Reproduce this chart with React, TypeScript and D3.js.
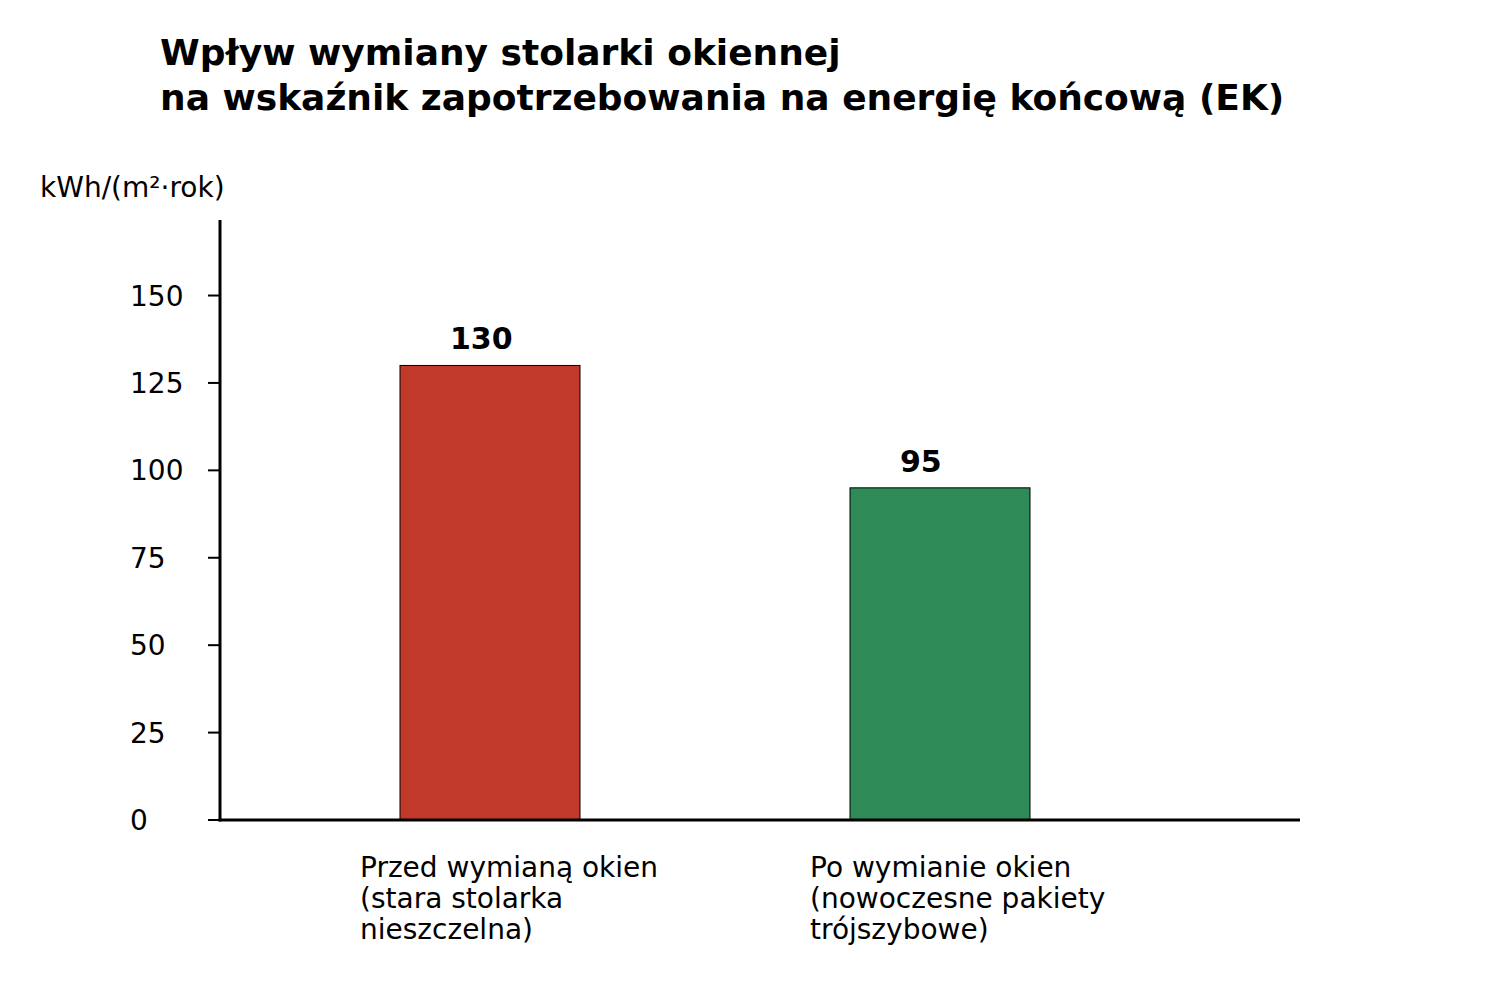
import React, { useEffect, useRef } from 'react';
import * as d3 from 'd3';

// values
const categories = [
  ['Przed wymianą okien', '(stara stolarka', 'nieszczelna)'],
  ['Po wymianie okien', '(nowoczesne pakiety', 'trójszybowe)'],
];
const values = [130, 95];
const barColors = ['#c0392b', '#2e8b57'];
const yTicks = [0, 25, 50, 75, 100, 125, 150];
const titleLines = [
  'Wpływ wymiany stolarki okiennej',
  'na wskaźnik zapotrzebowania na energię końcową (EK)',
];
const unitLabel = 'kWh/(m²·rok)';

const font = 'DejaVu Sans, sans-serif';

export default function App() {
  const ref = useRef<SVGSVGElement>(null);

  useEffect(() => {
    const svg = d3.select(ref.current);
    svg.selectAll('*').remove();

    const left = 220, right = 1300, top = 220, bottom = 820;

    const y = d3.scaleLinear().domain([0, 130 * 1.32]).range([bottom, top]);
    const x = d3.scaleBand<number>()
      .domain(d3.range(values.length + 1))
      .range([left + 180, left + 180 + 450 * (values.length + 1)]);

    // title
    svg.append('g').selectAll('text')
      .data(titleLines)
      .enter()
      .append('text')
      .attr('x', 160)
      .attr('y', (d, i) => 65 + i * 45)
      .attr('font-family', font)
      .attr('font-weight', 'bold')
      .attr('font-size', 36)
      .text(d => d);

    svg.append('text')
      .attr('x', 40)
      .attr('y', 197)
      .attr('font-family', font)
      .attr('font-size', 28)
      .text(unitLabel);

    // bars
    svg.selectAll('.bar')
      .data(values)
      .enter()
      .append('rect')
      .attr('class', 'bar')
      .attr('x', (d, i) => x(i)!)
      .attr('y', d => y(d))
      .attr('width', 180)
      .attr('height', d => bottom - y(d))
      .attr('fill', (d, i) => barColors[i])
      .attr('stroke', '#000')
      .attr('stroke-width', 1);

    svg.selectAll('.val')
      .data(values)
      .enter()
      .append('text')
      .attr('class', 'val')
      .attr('x', (d, i) => x(i)! + 50)
      .attr('y', d => y(d) - 16)
      .attr('font-family', font)
      .attr('font-weight', 'bold')
      .attr('font-size', 30)
      .text(d => d);

    // y ticks
    const tg = svg.append('g');
    tg.selectAll('line')
      .data(yTicks)
      .enter()
      .append('line')
      .attr('x1', 208)
      .attr('x2', left)
      .attr('y1', d => y(d))
      .attr('y2', d => y(d))
      .attr('stroke', '#000')
      .attr('stroke-width', 2);
    tg.selectAll('text')
      .data(yTicks)
      .enter()
      .append('text')
      .attr('x', 130)
      .attr('y', d => y(d) + 10)
      .attr('font-family', font)
      .attr('font-size', 28)
      .text(d => d);

    // axes
    svg.append('line')
      .attr('x1', left).attr('x2', left)
      .attr('y1', top).attr('y2', bottom + 1.5)
      .attr('stroke', '#000').attr('stroke-width', 3);
    svg.append('line')
      .attr('x1', left - 1.5).attr('x2', right)
      .attr('y1', bottom).attr('y2', bottom)
      .attr('stroke', '#000').attr('stroke-width', 3);

    // category labels
    categories.forEach((lines, i) => {
      svg.append('g').selectAll('text')
        .data(lines)
        .enter()
        .append('text')
        .attr('x', x(i)! - 40)
        .attr('y', (d, j) => 877 + j * 31)
        .attr('font-family', font)
        .attr('font-size', 28)
        .text(d => d);
    });
  }, []);

  return (
    <svg ref={ref} width={1500} height={1000}
      style={{ position: 'absolute', left: 0, top: 0, background: '#fff' }} />
  );
}
